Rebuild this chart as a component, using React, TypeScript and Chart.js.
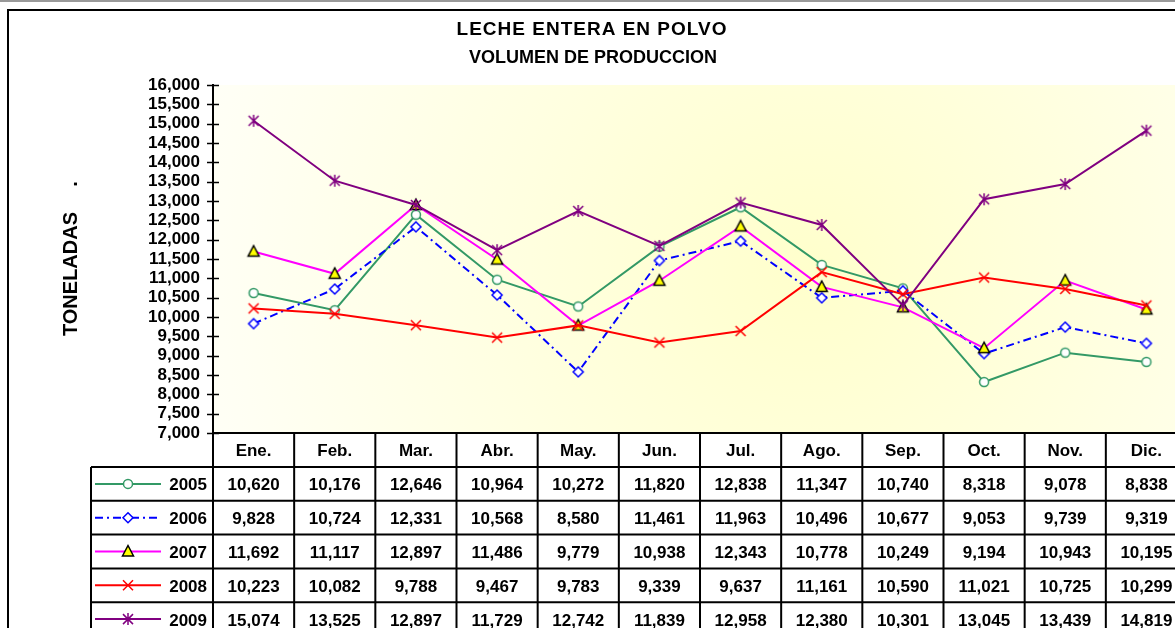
import React, { useEffect, useRef } from 'react';
import { Chart, registerables } from 'chart.js';

Chart.register(...registerables);

const months = ['Ene.', 'Feb.', 'Mar.', 'Abr.', 'May.', 'Jun.', 'Jul.', 'Ago.', 'Sep.', 'Oct.', 'Nov.', 'Dic.'];
const years = ['2005', '2006', '2007', '2008', '2009'];
const v2005 = [10620, 10176, 12646, 10964, 10272, 11820, 12838, 11347, 10740, 8318, 9078, 8838];
const v2006 = [9828, 10724, 12331, 10568, 8580, 11461, 11963, 10496, 10677, 9053, 9739, 9319];
const v2007 = [11692, 11117, 12897, 11486, 9779, 10938, 12343, 10778, 10249, 9194, 10943, 10195];
const v2008 = [10223, 10082, 9788, 9467, 9783, 9339, 9637, 11161, 10590, 11021, 10725, 10299];
const v2009 = [15074, 13525, 12897, 11729, 12742, 11839, 12958, 12380, 10301, 13045, 13439, 14819];
const yMin = 7000;
const yMax = 16000;
const yStep = 500;
const titleText = 'LECHE ENTERA EN POLVO';
const subtitleText = 'VOLUMEN DE PRODUCCION';
const yAxisTitle = 'TONELADAS';

const FONT = "'Liberation Sans', Arial, Helvetica, sans-serif";

const seriesValues = [v2005, v2006, v2007, v2008, v2009];
const seriesColors = ['#339966', '#0000FF', '#FF00FF', '#FF0000', '#800080'];
const seriesMarkers = ['circle', 'diamond', 'triangle', 'x', 'star'];
const seriesDash: number[][] = [[], [8, 4, 2, 4], [], [], []];

function fmt(n: number) {
  return n.toLocaleString('en-US');
}

function drawMarker(ctx: CanvasRenderingContext2D, kind: string, x: number, y: number) {
  ctx.save();
  ctx.lineWidth = 1.5;
  ctx.setLineDash([]);
  ctx.lineJoin = 'miter';
  if (kind === 'circle') {
    ctx.beginPath();
    ctx.arc(x, y, 4.5, 0, Math.PI * 2);
    ctx.fillStyle = '#ffffff';
    ctx.fill();
    ctx.strokeStyle = '#339966';
    ctx.stroke();
  } else if (kind === 'diamond') {
    ctx.beginPath();
    ctx.moveTo(x, y - 5);
    ctx.lineTo(x + 5, y);
    ctx.lineTo(x, y + 5);
    ctx.lineTo(x - 5, y);
    ctx.closePath();
    ctx.fillStyle = '#ffffff';
    ctx.fill();
    ctx.strokeStyle = '#0000FF';
    ctx.stroke();
  } else if (kind === 'triangle') {
    ctx.beginPath();
    ctx.moveTo(x, y - 6);
    ctx.lineTo(x + 5.5, y + 4.5);
    ctx.lineTo(x - 5.5, y + 4.5);
    ctx.closePath();
    ctx.fillStyle = '#FFFF00';
    ctx.fill();
    ctx.strokeStyle = '#000000';
    ctx.stroke();
  } else if (kind === 'x') {
    ctx.beginPath();
    ctx.moveTo(x - 5, y - 5);
    ctx.lineTo(x + 5, y + 5);
    ctx.moveTo(x + 5, y - 5);
    ctx.lineTo(x - 5, y + 5);
    ctx.strokeStyle = '#FF0000';
    ctx.stroke();
  } else if (kind === 'star') {
    ctx.beginPath();
    ctx.moveTo(x - 5, y - 5);
    ctx.lineTo(x + 5, y + 5);
    ctx.moveTo(x + 5, y - 5);
    ctx.lineTo(x - 5, y + 5);
    ctx.moveTo(x, y - 6);
    ctx.lineTo(x, y + 6);
    ctx.strokeStyle = '#800080';
    ctx.stroke();
  }
  ctx.restore();
}

function makeMarkerCanvas(kind: string) {
  const c = document.createElement('canvas');
  c.width = 16;
  c.height = 16;
  const cx = c.getContext('2d');
  if (cx) drawMarker(cx, kind, 8, 8);
  return c;
}

const decoPlugin = {
  id: 'deco',
  beforeDraw(chart: any) {
    const ctx: CanvasRenderingContext2D = chart.ctx;
    const { left, top, right, bottom } = chart.chartArea;
    const W = chart.width;
    const H = chart.height;
    ctx.save();
    ctx.fillStyle = '#ffffff';
    ctx.fillRect(0, 0, W, H);
    ctx.fillStyle = '#9a9a9a';
    ctx.fillRect(0, 0, W, 2);
    ctx.strokeStyle = '#000000';
    ctx.lineWidth = 2;
    ctx.beginPath();
    ctx.moveTo(8, H + 5);
    ctx.lineTo(8, 10);
    ctx.lineTo(W + 5, 10);
    ctx.stroke();

    const g = ctx.createRadialGradient(810, 270, 0, 810, 270, 620);
    g.addColorStop(0, '#FFFFCC');
    g.addColorStop(1, '#FFFFF6');
    ctx.fillStyle = g;
    ctx.fillRect(left, top, right - left, bottom - top);

    ctx.fillStyle = '#000000';
    ctx.textAlign = 'center';
    ctx.textBaseline = 'alphabetic';
    ctx.font = `bold 19px ${FONT}`;
    (ctx as any).letterSpacing = '1px';
    ctx.fillText(titleText, 592, 35);
    (ctx as any).letterSpacing = '0px';
    ctx.font = `bold 18px ${FONT}`;
    ctx.fillText(subtitleText, 593, 63);

    ctx.save();
    ctx.translate(77, 274);
    ctx.rotate(-Math.PI / 2);
    ctx.font = `bold 20px ${FONT}`;
    ctx.textAlign = 'center';
    ctx.fillText(yAxisTitle, 0, 0);
    ctx.fillText('.', 90, 0);
    ctx.restore();
    ctx.restore();
  },
  afterDraw(chart: any) {
    const ctx: CanvasRenderingContext2D = chart.ctx;
    const { left, top, right, bottom } = chart.chartArea;
    const W = chart.width;
    const H = chart.height;
    const xs = chart.scales.x;
    const ys = chart.scales.y;
    ctx.save();
    ctx.strokeStyle = '#000000';
    ctx.lineWidth = 2;
    // y axis line
    ctx.beginPath();
    ctx.moveTo(left, top - 1);
    ctx.lineTo(left, H + 2);
    ctx.stroke();
    // ticks
    ctx.lineWidth = 1.5;
    for (let v = yMin; v <= yMax; v += yStep) {
      const py = Math.round(ys.getPixelForValue(v)) + 0.5;
      ctx.beginPath();
      ctx.moveTo(left - 6, py);
      ctx.lineTo(left + 6, py);
      ctx.stroke();
    }

    // table
    const half = (right - left) / 24;
    const headerH = 34;
    const rowH = 33.8;
    const legendLeft = 91;
    ctx.lineWidth = 2;
    ctx.beginPath();
    ctx.moveTo(left, bottom);
    ctx.lineTo(W + 5, bottom);
    for (let i = 0; i <= years.length; i++) {
      const yy = bottom + headerH + i * rowH;
      ctx.moveTo(legendLeft, yy);
      ctx.lineTo(W + 5, yy);
    }
    for (let k = 0; k <= months.length; k++) {
      const xx = left + k * half * 2;
      ctx.moveTo(xx, bottom);
      ctx.lineTo(xx, H + 5);
    }
    ctx.moveTo(legendLeft, bottom + headerH);
    ctx.lineTo(legendLeft, H + 5);
    ctx.stroke();

    ctx.fillStyle = '#000000';
    ctx.font = `bold 17px ${FONT}`;
    ctx.textBaseline = 'alphabetic';
    ctx.textAlign = 'center';
    months.forEach((m, k) => {
      const cx = xs.getPixelForValue(k);
      ctx.fillText(m, cx, bottom + headerH / 2 + 6);
    });
    seriesValues.forEach((vals, i) => {
      const cy = bottom + headerH + i * rowH + rowH / 2;
      ctx.textAlign = 'center';
      vals.forEach((v, k) => {
        const cx = xs.getPixelForValue(k);
        ctx.fillText(fmt(v), cx, cy + 6.5);
      });
      ctx.textAlign = 'right';
      ctx.fillText(years[i], left - 6, cy + 6.5);
      // legend line
      ctx.save();
      ctx.strokeStyle = seriesColors[i];
      ctx.lineWidth = 2;
      ctx.setLineDash(seriesDash[i]);
      ctx.beginPath();
      ctx.moveTo(95, cy);
      ctx.lineTo(161, cy);
      ctx.stroke();
      ctx.restore();
      drawMarker(ctx, seriesMarkers[i], 128, cy);
    });
    ctx.restore();
  },
};

export default function App() {
  const canvasRef = useRef<HTMLCanvasElement | null>(null);

  useEffect(() => {
    const canvas = canvasRef.current;
    if (!canvas) return;
    const markerCanvases = seriesMarkers.map((m) => makeMarkerCanvas(m));
    const chart = new Chart(canvas, {
      type: 'line',
      data: {
        labels: months,
        datasets: seriesValues.map((vals, i) => ({
          label: years[i],
          data: vals,
          borderColor: seriesColors[i],
          backgroundColor: seriesColors[i],
          borderWidth: 2,
          borderDash: seriesDash[i],
          pointStyle: markerCanvases[i] as any,
          pointRadius: 6,
          pointHoverRadius: 6,
          tension: 0,
          fill: false,
          order: years.length - i,
        })),
      },
      options: {
        responsive: false,
        animation: false,
        devicePixelRatio: 1,
        events: [],
        layout: { padding: { top: 85, bottom: 195, left: 0, right: 13 } },
        plugins: {
          legend: { display: false },
          title: { display: false },
          tooltip: { enabled: false },
        },
        scales: {
          x: {
            type: 'category',
            display: false,
            offset: true,
          },
          y: {
            type: 'linear',
            min: yMin,
            max: yMax,
            grid: { display: false, drawTicks: false },
            border: { display: false },
            afterFit: (scale: any) => {
              scale.width = 213;
            },
            ticks: {
              stepSize: yStep,
              autoSkip: false,
              padding: 13,
              color: '#000000',
              font: { family: FONT, size: 17, weight: 'bold', lineHeight: 1 },
              callback: (v: any) => fmt(Number(v)),
            },
          },
        },
      },
      plugins: [decoPlugin],
    } as any);
    return () => {
      chart.destroy();
    };
  }, []);

  return (
    <div
      style={{
        position: 'fixed',
        left: 0,
        top: 0,
        width: 1175,
        height: 628,
        overflow: 'hidden',
        background: '#ffffff',
      }}
    >
      <canvas ref={canvasRef} width={1200} height={628} style={{ display: 'block' }} />
    </div>
  );
}
